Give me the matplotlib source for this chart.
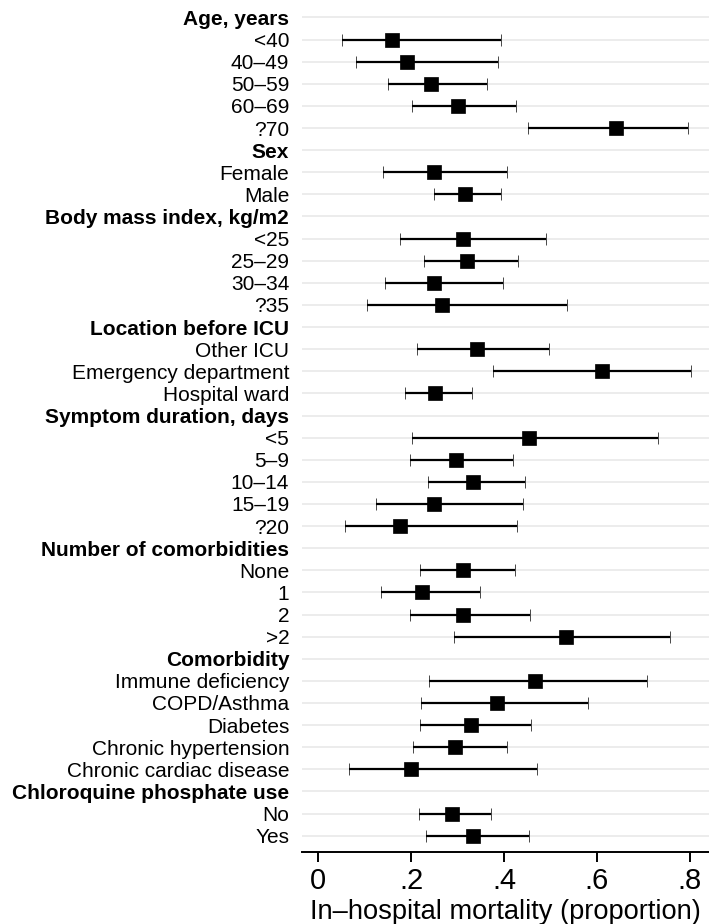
import matplotlib
matplotlib.use("Agg")
import matplotlib.pyplot as plt
import numpy as np

plt.rcParams['font.family'] = ['Liberation Sans', 'DejaVu Sans']

labels = ["Age, years", "<40", "40–49", "50–59", "60–69", "?70",
          "Sex", "Female", "Male",
          "Body mass index, kg/m2", "<25", "25–29", "30–34", "?35",
          "Location before ICU", "Other ICU", "Emergency department", "Hospital ward",
          "Symptom duration, days", "<5", "5–9", "10–14", "15–19", "?20",
          "Number of comorbidities", "None", "1", "2", ">2",
          "Comorbidity", "Immune deficiency", "COPD/Asthma", "Diabetes",
          "Chronic hypertension", "Chronic cardiac disease",
          "Chloroquine phosphate use", "No", "Yes"]

# proportion, lower CI, upper CI (nan for header rows)
est = [np.nan, 0.158, 0.192, 0.242, 0.301, 0.642,
       np.nan, 0.249, 0.316,
       np.nan, 0.312, 0.320, 0.249, 0.267,
       np.nan, 0.341, 0.611, 0.252,
       np.nan, 0.454, 0.297, 0.333, 0.249, 0.176,
       np.nan, 0.312, 0.224, 0.312, 0.533,
       np.nan, 0.466, 0.384, 0.328, 0.295, 0.200,
       np.nan, 0.287, 0.333]
lo = [np.nan, 0.051, 0.082, 0.151, 0.201, 0.452,
      np.nan, 0.139, 0.249,
      np.nan, 0.176, 0.228, 0.144, 0.104,
      np.nan, 0.213, 0.377, 0.186,
      np.nan, 0.202, 0.197, 0.237, 0.124, 0.058,
      np.nan, 0.218, 0.134, 0.197, 0.292,
      np.nan, 0.239, 0.221, 0.219, 0.205, 0.065,
      np.nan, 0.216, 0.232]
hi = [np.nan, 0.393, 0.388, 0.364, 0.426, 0.796,
      np.nan, 0.407, 0.393,
      np.nan, 0.491, 0.430, 0.398, 0.535,
      np.nan, 0.498, 0.803, 0.331,
      np.nan, 0.733, 0.420, 0.445, 0.441, 0.429,
      np.nan, 0.424, 0.349, 0.456, 0.759,
      np.nan, 0.708, 0.581, 0.458, 0.406, 0.472,
      np.nan, 0.372, 0.453]

headers = {"Age, years", "Sex", "Body mass index, kg/m2", "Location before ICU",
           "Symptom duration, days", "Number of comorbidities", "Comorbidity",
           "Chloroquine phosphate use"}

est = np.array(est)
lo = np.array(lo)
hi = np.array(hi)
y = np.arange(len(labels))

fig = plt.figure(figsize=(7.09, 9.24), dpi=100)
ax = fig.add_axes([0.4255, 0.0779, 0.5745, 0.9221])

for yy in y:
    ax.axhline(yy, color='#ebebeb', lw=1.3, zorder=0)

m = ~np.isnan(est)
ax.errorbar(est[m], y[m], xerr=[est[m] - lo[m], hi[m] - est[m]], fmt='s',
            color='black', ms=9.5, mew=0.5, elinewidth=1.6, capsize=4.3,
            capthick=1.6, zorder=3)

ax.set_xlim(-0.036, 0.842)
ax.set_ylim(37.74, -0.79)
ax.set_yticks(y)
ax.set_yticklabels(labels, fontsize=15)
for t in ax.get_yticklabels():
    if t.get_text() in headers:
        t.set_fontweight('bold')
ax.tick_params(axis='y', length=0, pad=9)

ax.set_xticks([0, 0.2, 0.4, 0.6, 0.8])
ax.set_xticklabels(["0", ".2", ".4", ".6", ".8"], fontsize=21)
ax.tick_params(axis='x', length=7, width=1.4, pad=4)
ax.set_xlabel("In–hospital mortality (proportion)", fontsize=19.6, labelpad=3)

for s in ['top', 'right', 'left']:
    ax.spines[s].set_visible(False)
ax.spines['bottom'].set_linewidth(1.4)

fig.savefig("out.png", dpi=100)
